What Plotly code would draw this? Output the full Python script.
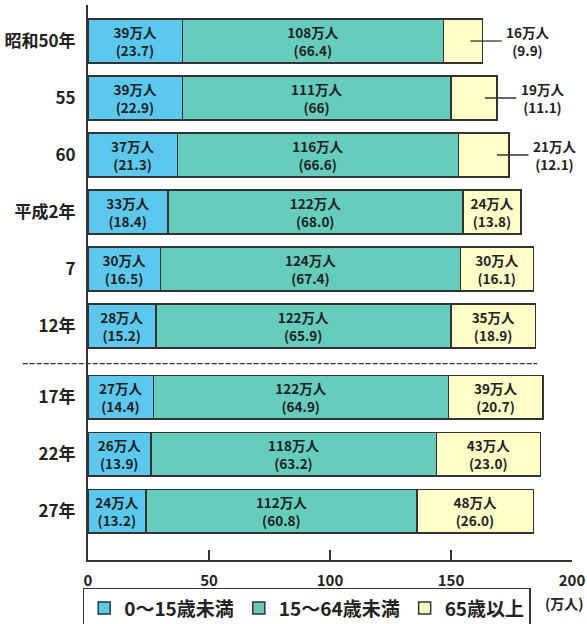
import plotly.graph_objects as go

# Population by age group (10,000 persons) and share of total (%)
years = ["昭和50年", "55", "60", "平成2年", "7", "12年", "17年", "22年", "27年"]
row_pos = [0, 1, 2, 3, 4, 5, 6.25, 7.25, 8.25]

young = [39, 39, 37, 33, 30, 28, 27, 26, 24]
working = [108, 111, 116, 122, 124, 122, 122, 118, 112]
elderly = [16, 19, 21, 24, 30, 35, 39, 43, 48]

young_pct = ["23.7", "22.9", "21.3", "18.4", "16.5", "15.2", "14.4", "13.9", "13.2"]
working_pct = ["66.4", "66", "66.6", "68.0", "67.4", "65.9", "64.9", "63.2", "60.8"]
elderly_pct = ["9.9", "11.1", "12.1", "13.8", "16.1", "18.9", "20.7", "23.0", "26.0"]

series_names = ["0～15歳未満", "15～64歳未満", "65歳以上"]
x_ticks = [0, 50, 100, 150, 200]

# rows whose 65+ segment is too narrow for an inside label
outside_rows = 3

FONT = "Noto Sans CJK JP, Noto Sans, sans-serif"
INK = "#222222"
EDGE = "#333333"
colors = ["#5CC8EE", "#66CCBB", "#FFFFC8"]
LABEL_SIZE = 13.5


def labels(vals, pcts, skip=0):
    out = []
    for i, (v, p) in enumerate(zip(vals, pcts)):
        out.append("" if i < skip else f"{v}万人<br>({p})")
    return out


fig = go.Figure()
for name, vals, pcts, col, skip in [
    (series_names[0], young, young_pct, colors[0], 0),
    (series_names[1], working, working_pct, colors[1], 0),
    (series_names[2], elderly, elderly_pct, colors[2], outside_rows),
]:
    fig.add_trace(go.Bar(
        name=name,
        y=row_pos,
        x=vals,
        orientation="h",
        width=0.77,
        marker=dict(color=col, line=dict(color=EDGE, width=1.5)),
        text=labels(vals, pcts, skip),
        textposition="inside",
        insidetextanchor="middle",
        textangle=0,
        insidetextfont=dict(family=FONT, size=LABEL_SIZE, color=INK, weight="bold"),
        hoverinfo="skip",
    ))

# outside labels with leader lines for the narrow 65+ segments
for i in range(outside_rows):
    total = young[i] + working[i] + elderly[i]
    fig.add_shape(type="line", xref="x", yref="y",
                  x0=total - 5, x1=total + 8, y0=row_pos[i], y1=row_pos[i],
                  line=dict(color=EDGE, width=1.3))
    fig.add_annotation(x=total + 9, y=row_pos[i], xref="x", yref="y",
                       text=f"{elderly[i]}万人<br>({elderly_pct[i]})",
                       showarrow=False, xanchor="left", align="center",
                       font=dict(family=FONT, size=LABEL_SIZE, color=INK, weight="bold"))

# dashed separator between the two periods
fig.add_shape(type="line", xref="paper", yref="y",
              x0=-0.135, x1=0.928, y0=5.66, y1=5.66,
              line=dict(color=EDGE, width=1.2, dash="5px,2px"))

# unit label under the axis end
fig.add_annotation(x=200, y=-0.055, xref="x", yref="paper",
                   text="(万人)", showarrow=False, xanchor="center", yanchor="top",
                   xshift=-8,
                   font=dict(family=FONT, size=14, color=INK, weight="bold"))

fig.update_layout(
    width=587, height=624,
    margin=dict(l=88, r=15, t=5, b=64, autoexpand=False),
    barmode="stack",
    plot_bgcolor="white", paper_bgcolor="white",
    font=dict(family=FONT, color=INK),
    legend=dict(
        orientation="h", x=-0.011, y=-0.05, xanchor="left", yanchor="top",
        font=dict(family=FONT, size=19, color=INK, weight="bold"),
        bordercolor=EDGE, borderwidth=1.5, bgcolor="white",
        itemwidth=30, traceorder="normal",
    ),
    xaxis=dict(
        range=[0, 200], tickvals=x_ticks, ticktext=[str(t) for t in x_ticks],
        ticks="", showgrid=False, zeroline=False,
        showline=True, linecolor=EDGE, linewidth=2,
        tickfont=dict(family=FONT, size=15, color=INK, weight="bold"),
        ticklabelstandoff=6,
        minor=dict(tickvals=[50, 100, 150], ticks="inside", ticklen=10,
                   tickcolor=EDGE, tickwidth=1.5),
    ),
    yaxis=dict(
        range=[9.105, -0.632], tickvals=row_pos, ticktext=years,
        ticks="", showgrid=False, zeroline=False,
        showline=True, linecolor=EDGE, linewidth=2,
        tickfont=dict(family=FONT, size=17, color=INK, weight="bold"),
        ticklabelstandoff=7,
    ),
)

fig.write_html("out.html")
